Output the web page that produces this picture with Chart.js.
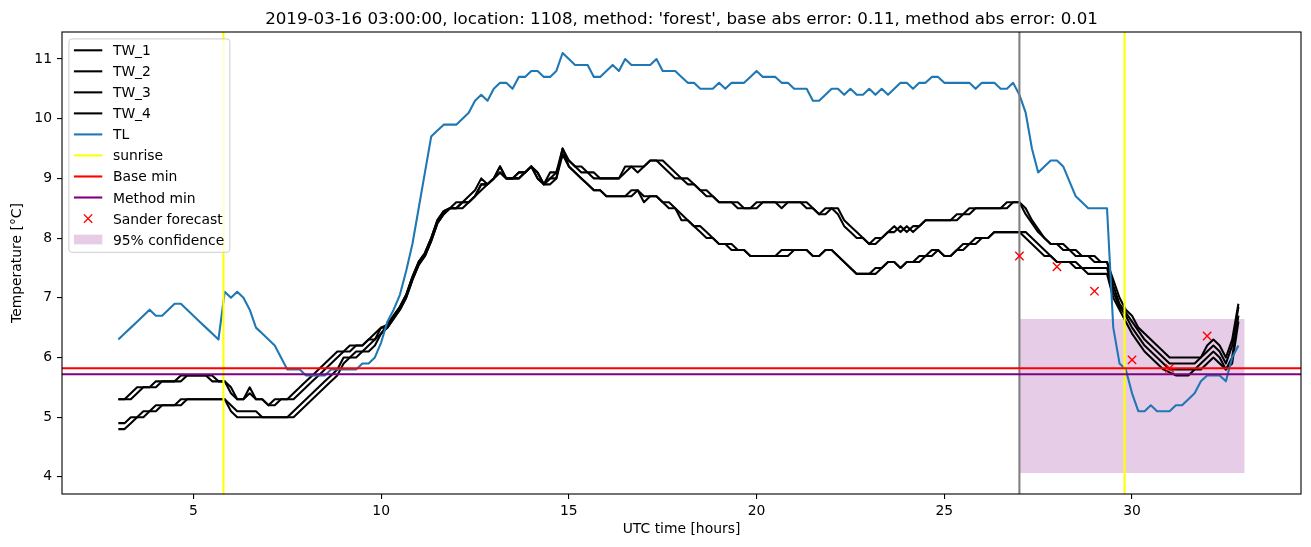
<!DOCTYPE html>
<html>
<head>
<meta charset="utf-8">
<script src="https://cdn.jsdelivr.net/npm/chart.js@4/dist/chart.umd.min.js"></script>
<style>
  html, body { margin: 0; padding: 0; background: #fff; }
  #wrap { width: 1311px; height: 547px; position: relative; }
</style>
</head>
<body>
<div id="wrap"><canvas id="temps"></canvas></div>
<script>
//--------------------------------------------- data
const titleText = "2019-03-16 03:00:00, location: 1108, method: 'forest', base abs error: 0.11, method abs error: 0.01";

// 10 minute steps from 03:00 (3 h) up to 32:50
const hours = Array.from({ length: 180 }, (_, i) => 3 + i / 6);

const tw1 = [
  5.3, 5.3, 5.4, 5.5, 5.5, 5.5, 5.6, 5.6, 5.6, 5.6,
  5.7, 5.7, 5.7, 5.7, 5.7, 5.6, 5.6, 5.6, 5.4, 5.3,
  5.3, 5.5, 5.3, 5.3, 5.2, 5.3, 5.3, 5.3, 5.4, 5.5,
  5.6, 5.7, 5.8, 5.9, 6.0, 6.1, 6.1, 6.2, 6.2, 6.2,
  6.3, 6.4, 6.5, 6.55, 6.7, 6.85, 7.05, 7.35, 7.6, 7.75,
  8.0, 8.3, 8.45, 8.5, 8.6, 8.6, 8.7, 8.8, 9.0, 8.9,
  9.0, 9.2, 9.0, 9.0, 9.0, 9.1, 9.2, 9.1, 8.9, 9.1,
  9.1, 9.5, 9.3, 9.2, 9.1, 9.1, 9.0, 9.0, 9.0, 9.0,
  9.0, 9.2, 9.2, 9.1, 9.2, 9.3, 9.3, 9.2, 9.1, 9.0,
  9.0, 8.9, 8.9, 8.8, 8.7, 8.7, 8.6, 8.6, 8.6, 8.5,
  8.5, 8.5, 8.6, 8.6, 8.6, 8.6, 8.5, 8.6, 8.6, 8.6,
  8.5, 8.5, 8.4, 8.5, 8.5, 8.4, 8.2, 8.1, 8.0, 8.0,
  7.9, 8.0, 8.0, 8.1, 8.2, 8.1, 8.2, 8.1, 8.2, 8.3,
  8.3, 8.3, 8.3, 8.3, 8.4, 8.4, 8.5, 8.5, 8.5, 8.5,
  8.5, 8.5, 8.6, 8.6, 8.6, 8.4, 8.25, 8.1, 8.0, 7.9,
  7.9, 7.8, 7.8, 7.7, 7.7, 7.7, 7.6, 7.6, 7.6, 7.3,
  7.0, 6.8, 6.7, 6.5, 6.4, 6.3, 6.2, 6.1, 6.0, 6.0,
  6.0, 6.0, 6.0, 6.0, 6.2, 6.3, 6.2, 6.0, 6.3, 6.9
];
const tw2 = [
  5.3, 5.3, 5.3, 5.4, 5.5, 5.5, 5.5, 5.6, 5.6, 5.6,
  5.6, 5.7, 5.7, 5.7, 5.7, 5.7, 5.6, 5.6, 5.5, 5.3,
  5.3, 5.4, 5.3, 5.3, 5.2, 5.2, 5.3, 5.3, 5.3, 5.4,
  5.5, 5.6, 5.7, 5.8, 5.9, 6.0, 6.1, 6.1, 6.2, 6.2,
  6.3, 6.3, 6.5, 6.5, 6.65, 6.8, 7.0, 7.3, 7.55, 7.7,
  7.95, 8.25, 8.4, 8.5, 8.5, 8.6, 8.6, 8.7, 8.9, 8.9,
  9.0, 9.1, 9.0, 9.0, 9.1, 9.1, 9.2, 9.0, 8.9, 9.0,
  9.1, 9.4, 9.3, 9.2, 9.2, 9.1, 9.1, 9.0, 9.0, 9.0,
  9.0, 9.1, 9.2, 9.2, 9.2, 9.3, 9.3, 9.3, 9.2, 9.1,
  9.0, 9.0, 8.9, 8.8, 8.8, 8.7, 8.6, 8.6, 8.6, 8.6,
  8.5, 8.5, 8.5, 8.6, 8.6, 8.6, 8.6, 8.6, 8.6, 8.6,
  8.6, 8.5, 8.4, 8.4, 8.5, 8.5, 8.3, 8.2, 8.1, 8.0,
  7.9, 7.9, 8.0, 8.1, 8.1, 8.2, 8.1, 8.2, 8.2, 8.3,
  8.3, 8.3, 8.3, 8.3, 8.3, 8.4, 8.4, 8.5, 8.5, 8.5,
  8.5, 8.5, 8.5, 8.6, 8.6, 8.5, 8.3, 8.15, 8.0, 7.9,
  7.9, 7.9, 7.8, 7.8, 7.7, 7.7, 7.7, 7.6, 7.6, 7.2,
  6.9, 6.75, 6.6, 6.45, 6.3, 6.2, 6.1, 6.0, 5.9, 5.9,
  5.9, 5.9, 5.9, 6.0, 6.1, 6.2, 6.1, 5.9, 6.2, 6.85
];
const tw3 = [
  4.9, 4.9, 5.0, 5.0, 5.1, 5.1, 5.2, 5.2, 5.2, 5.2,
  5.3, 5.3, 5.3, 5.3, 5.3, 5.3, 5.3, 5.3, 5.2, 5.1,
  5.1, 5.1, 5.1, 5.0, 5.0, 5.0, 5.0, 5.0, 5.1, 5.2,
  5.3, 5.4, 5.5, 5.6, 5.7, 5.8, 6.0, 6.0, 6.1, 6.1,
  6.2, 6.3, 6.4, 6.55, 6.7, 6.85, 7.05, 7.35, 7.6, 7.75,
  8.0, 8.3, 8.45, 8.5, 8.5, 8.6, 8.6, 8.7, 8.9, 8.9,
  9.0, 9.2, 9.0, 9.0, 9.1, 9.1, 9.2, 9.0, 8.9, 9.0,
  9.0, 9.5, 9.2, 9.1, 9.0, 8.9, 8.8, 8.8, 8.7, 8.7,
  8.7, 8.7, 8.8, 8.8, 8.7, 8.7, 8.7, 8.6, 8.5, 8.5,
  8.3, 8.3, 8.2, 8.1, 8.0, 8.0, 7.9, 7.9, 7.8, 7.8,
  7.8, 7.7, 7.7, 7.7, 7.7, 7.7, 7.8, 7.8, 7.8, 7.8,
  7.8, 7.7, 7.7, 7.8, 7.8, 7.7, 7.6, 7.5, 7.4, 7.4,
  7.4, 7.5, 7.5, 7.6, 7.6, 7.5, 7.6, 7.6, 7.7, 7.7,
  7.8, 7.8, 7.7, 7.7, 7.8, 7.9, 7.9, 8.0, 8.0, 8.0,
  8.1, 8.1, 8.1, 8.1, 8.1, 8.0, 7.9, 7.8, 7.7, 7.7,
  7.6, 7.6, 7.6, 7.6, 7.5, 7.5, 7.5, 7.5, 7.5, 7.1,
  6.85, 6.7, 6.5, 6.35, 6.2, 6.1, 6.0, 5.9, 5.8, 5.8,
  5.8, 5.8, 5.8, 5.9, 6.0, 6.1, 6.0, 5.8, 6.0, 6.7
];
const tw4 = [
  4.8, 4.8, 4.9, 5.0, 5.0, 5.1, 5.1, 5.2, 5.2, 5.2,
  5.2, 5.3, 5.3, 5.3, 5.3, 5.3, 5.3, 5.3, 5.1, 5.0,
  5.0, 5.0, 5.0, 5.0, 5.0, 5.0, 5.0, 5.0, 5.0, 5.1,
  5.2, 5.3, 5.4, 5.5, 5.6, 5.7, 5.9, 6.0, 6.0, 6.1,
  6.1, 6.2, 6.4, 6.5, 6.65, 6.8, 7.0, 7.3, 7.55, 7.7,
  7.95, 8.25, 8.4, 8.5, 8.5, 8.5, 8.6, 8.7, 8.8, 8.9,
  9.0, 9.1, 9.0, 9.0, 9.0, 9.1, 9.2, 9.1, 8.9, 8.9,
  9.0, 9.4, 9.2, 9.1, 9.0, 8.9, 8.8, 8.8, 8.7, 8.7,
  8.7, 8.7, 8.7, 8.8, 8.6, 8.7, 8.7, 8.6, 8.6, 8.5,
  8.4, 8.3, 8.2, 8.2, 8.1, 8.0, 7.9, 7.9, 7.9, 7.8,
  7.8, 7.7, 7.7, 7.7, 7.7, 7.7, 7.7, 7.7, 7.8, 7.8,
  7.8, 7.7, 7.7, 7.8, 7.8, 7.7, 7.6, 7.5, 7.4, 7.4,
  7.4, 7.4, 7.5, 7.6, 7.6, 7.5, 7.6, 7.6, 7.6, 7.7,
  7.7, 7.8, 7.7, 7.7, 7.8, 7.8, 7.9, 7.9, 8.0, 8.0,
  8.1, 8.1, 8.1, 8.1, 8.1, 8.1, 8.0, 7.9, 7.8, 7.7,
  7.6, 7.6, 7.6, 7.5, 7.5, 7.4, 7.4, 7.4, 7.4, 7.0,
  6.8, 6.6, 6.4, 6.25, 6.1, 6.0, 5.9, 5.8, 5.75, 5.7,
  5.7, 5.7, 5.8, 5.8, 5.9, 6.0, 5.9, 5.8, 5.9, 6.6
];
const tl = [
  6.3, 6.4, 6.5, 6.6, 6.7, 6.8, 6.7, 6.7, 6.8, 6.9,
  6.9, 6.8, 6.7, 6.6, 6.5, 6.4, 6.3, 7.1, 7.0, 7.1,
  7.0, 6.8, 6.5, 6.4, 6.3, 6.2, 6.0, 5.8, 5.8, 5.8,
  5.7, 5.7, 5.7, 5.7, 5.8, 5.8, 5.8, 5.8, 5.8, 5.9,
  5.9, 6.0, 6.25, 6.6, 6.8, 7.05, 7.45, 7.9, 8.5, 9.1,
  9.7, 9.8, 9.9, 9.9, 9.9, 10.0, 10.1, 10.3, 10.4, 10.3,
  10.5, 10.6, 10.6, 10.5, 10.7, 10.7, 10.8, 10.8, 10.7, 10.7,
  10.8, 11.1, 11.0, 10.9, 10.9, 10.9, 10.7, 10.7, 10.8, 10.9,
  10.8, 11.0, 10.9, 10.9, 10.9, 10.9, 11.0, 10.8, 10.8, 10.8,
  10.7, 10.6, 10.6, 10.5, 10.5, 10.5, 10.6, 10.5, 10.6, 10.6,
  10.6, 10.7, 10.8, 10.7, 10.7, 10.7, 10.6, 10.6, 10.5, 10.5,
  10.5, 10.3, 10.3, 10.4, 10.5, 10.5, 10.4, 10.5, 10.4, 10.4,
  10.5, 10.4, 10.5, 10.4, 10.5, 10.6, 10.6, 10.5, 10.6, 10.6,
  10.7, 10.7, 10.6, 10.6, 10.6, 10.6, 10.6, 10.5, 10.6, 10.6,
  10.6, 10.5, 10.5, 10.6, 10.4, 10.1, 9.5, 9.1, 9.2, 9.3,
  9.3, 9.2, 8.95, 8.7, 8.6, 8.5, 8.5, 8.5, 8.5, 6.5,
  5.9, 5.8, 5.4, 5.1, 5.1, 5.2, 5.1, 5.1, 5.1, 5.2,
  5.2, 5.3, 5.4, 5.6, 5.7, 5.7, 5.7, 5.6, 6.0, 6.2
];

const sunrise = [5.8, 29.8];
const forecastStart = 27.0;
const baseMin = 5.82;
const methodMin = 5.72;

const sanderHours = [27, 28, 29, 30, 31, 32];
const sanderTemp = [7.70, 7.52, 7.11, 5.96, 5.82, 6.36];

const confHours = [27, 33];
const confLow = 4.065;
const confHigh = 6.645;

const xTicks = [5, 10, 15, 20, 25, 30];
const yTicks = [4, 5, 6, 7, 8, 9, 10, 11];
const xMin = 1.5, xMax = 34.5;
const yMin = 3.713, yMax = 11.452;

//--------------------------------------------- helpers
const LW = 2.08;   // 1.5pt at 100 dpi
const pts = vals => vals.map((v, i) => ({ x: hours[i], y: v }));

function lineSet(label, data, color, order) {
  return {
    label: label,
    data: data,
    borderColor: color,
    backgroundColor: color,
    borderWidth: LW,
    borderJoinStyle: 'round',
    pointRadius: 0,
    fill: false,
    order: order
  };
}

const datasets = [
  lineSet('TW_1', pts(tw1), '#000000', 9),
  lineSet('TW_2', pts(tw2), '#000000', 8),
  lineSet('TW_3', pts(tw3), '#000000', 7),
  lineSet('TW_4', pts(tw4), '#000000', 6),
  lineSet('TL', pts(tl), '#1f77b4', 5),
  lineSet('forecast start', [{ x: forecastStart, y: yMin }, { x: forecastStart, y: yMax }], '#808080', 4)
];
sunrise.forEach(h => {
  datasets.push(lineSet('sunrise', [{ x: h, y: yMin }, { x: h, y: yMax }], '#ffff00', 4));
});
datasets.push(lineSet('Base min', [{ x: xMin, y: baseMin }, { x: xMax, y: baseMin }], '#ff0000', 3));
datasets.push(lineSet('Method min', [{ x: xMin, y: methodMin }, { x: xMax, y: methodMin }], '#800080', 2));
datasets.push({
  label: 'Sander forecast',
  data: sanderHours.map((h, i) => ({ x: h, y: sanderTemp[i] })),
  showLine: false,
  pointStyle: 'crossRot',
  pointRadius: 5.9,
  pointBorderWidth: 1.4,
  pointBorderColor: '#ff0000',
  pointBackgroundColor: '#ff0000',
  order: 1
});
datasets.push({
  label: '95% confidence',
  data: confHours.map(h => ({ x: h, y: confHigh })),
  borderColor: 'transparent',
  borderWidth: 0,
  backgroundColor: 'rgba(128, 0, 128, 0.2)',
  pointRadius: 0,
  fill: { value: confLow },
  order: 10
});

const legendItems = [
  { label: 'TW_1', kind: 'line', color: '#000000' },
  { label: 'TW_2', kind: 'line', color: '#000000' },
  { label: 'TW_3', kind: 'line', color: '#000000' },
  { label: 'TW_4', kind: 'line', color: '#000000' },
  { label: 'TL', kind: 'line', color: '#1f77b4' },
  { label: 'sunrise', kind: 'line', color: '#ffff00' },
  { label: 'Base min', kind: 'line', color: '#ff0000' },
  { label: 'Method min', kind: 'line', color: '#800080' },
  { label: 'Sander forecast', kind: 'cross', color: '#ff0000' },
  { label: '95% confidence', kind: 'patch', color: 'rgba(128, 0, 128, 0.2)' }
];

//--------------------------------------------- frame, title, legend
const mplDecor = {
  id: 'mplDecor',
  afterDatasetsDraw(chart) {
    const { ctx, chartArea: a } = chart;
    ctx.save();
    ctx.strokeStyle = '#000';
    ctx.lineWidth = 1.1;
    ctx.strokeRect(a.left, a.top, a.right - a.left, a.bottom - a.top);
    ctx.restore();
  },
  afterDraw(chart) {
    const { ctx, chartArea: a } = chart;
    ctx.save();
    ctx.fillStyle = '#000';
    ctx.font = '16.7px "DejaVu Sans"';
    ctx.textAlign = 'center';
    ctx.textBaseline = 'alphabetic';
    ctx.fillText(titleText, (a.left + a.right) / 2, a.top - 8.3);

    ctx.font = '13.9px "DejaVu Sans"';
    const textW = Math.max(...legendItems.map(it => ctx.measureText(it.label).width));
    const bx = a.left + 6.9, by = a.top + 6.9;
    const bw = 44 + textW + 5.6, bh = 213.4, r = 3;
    ctx.beginPath();
    ctx.moveTo(bx + r, by);
    ctx.arcTo(bx + bw, by, bx + bw, by + bh, r);
    ctx.arcTo(bx + bw, by + bh, bx, by + bh, r);
    ctx.arcTo(bx, by + bh, bx, by, r);
    ctx.arcTo(bx, by, bx + bw, by, r);
    ctx.closePath();
    ctx.fillStyle = 'rgba(255, 255, 255, 0.8)';
    ctx.fill();
    ctx.strokeStyle = '#cccccc';
    ctx.lineWidth = 1;
    ctx.stroke();

    legendItems.forEach((it, i) => {
      const cy = by + 11.4 + i * 21.03;
      const hx0 = bx + 5, hx1 = bx + 33.4;
      if (it.kind === 'line') {
        ctx.beginPath();
        ctx.moveTo(hx0, cy);
        ctx.lineTo(hx1, cy);
        ctx.strokeStyle = it.color;
        ctx.lineWidth = LW;
        ctx.stroke();
      } else if (it.kind === 'cross') {
        const cx = (hx0 + hx1) / 2, d = 4.17;
        ctx.beginPath();
        ctx.moveTo(cx - d, cy - d); ctx.lineTo(cx + d, cy + d);
        ctx.moveTo(cx - d, cy + d); ctx.lineTo(cx + d, cy - d);
        ctx.strokeStyle = it.color;
        ctx.lineWidth = 1.4;
        ctx.stroke();
      } else {
        ctx.fillStyle = it.color;
        ctx.fillRect(hx0, cy - 4.9, hx1 - hx0, 9.7);
      }
      ctx.fillStyle = '#000';
      ctx.textAlign = 'left';
      ctx.textBaseline = 'alphabetic';
      ctx.fillText(it.label, bx + 44, cy + 5);
    });
    ctx.restore();
  }
};

//--------------------------------------------- chart
Chart.defaults.font.family = '"DejaVu Sans"';
Chart.defaults.font.size = 13.9;
Chart.defaults.color = '#000';

const configTemps = {
  type: 'line',
  data: { datasets: datasets },
  options: {
    responsive: true,
    maintainAspectRatio: false,
    devicePixelRatio: 1,
    animation: false,
    events: [],
    layout: { padding: { top: 32, right: 10, left: 0, bottom: 0 } },
    plugins: {
      legend: { display: false },
      title: { display: false },
      tooltip: { enabled: false }
    },
    scales: {
      x: {
        type: 'linear',
        min: xMin,
        max: xMax,
        afterBuildTicks: s => { s.ticks = xTicks.map(v => ({ value: v })); },
        afterFit: s => { s.height = 53; },
        ticks: { color: '#000', padding: 4, maxRotation: 0, autoSkip: false },
        grid: { display: true, drawOnChartArea: false, drawTicks: true, tickLength: 5, color: '#000', lineWidth: 1.1 },
        border: { display: false },
        title: { display: true, text: 'UTC time [hours]', color: '#000', padding: { top: 0, bottom: 9 } }
      },
      y: {
        type: 'linear',
        min: yMin,
        max: yMax,
        afterBuildTicks: s => { s.ticks = yTicks.map(v => ({ value: v })); },
        afterFit: s => { s.width = 62; },
        ticks: { color: '#000', padding: 5 },
        grid: { display: true, drawOnChartArea: false, drawTicks: true, tickLength: 5, color: '#000', lineWidth: 1.1 },
        border: { display: false },
        title: { display: true, text: 'Temperature [°C]', color: '#000', padding: { top: 9.5, bottom: 0 } }
      }
    }
  },
  plugins: [mplDecor]
};

var chartTemps = new Chart(
  document.getElementById('temps'),
  configTemps
);
</script>
</body>
</html>
